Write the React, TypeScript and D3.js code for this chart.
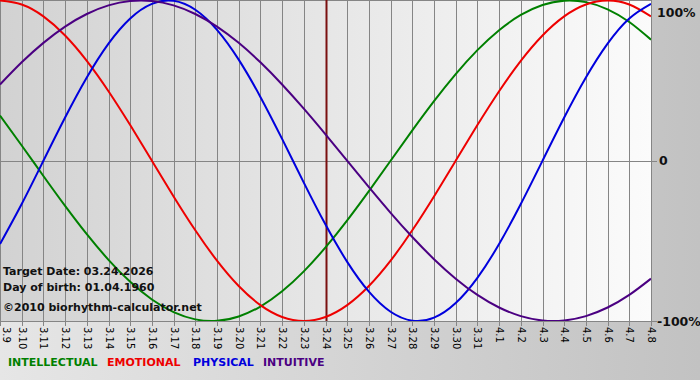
import React from "react";
import * as d3 from "d3";

const dayLabels = ["3.9","3.10","3.11","3.12","3.13","3.14","3.15","3.16","3.17","3.18","3.19","3.20","3.21","3.22","3.23","3.24","3.25","3.26","3.27","3.28","3.29","3.30","3.31","4.1","4.2","4.3","4.4","4.5","4.6","4.7","4.8"];

const physical = [-0.5196,-0.2698,0,0.2698,0.5196,0.7308,0.8879,0.9791,0.9977,0.9423,0.8170,0.6310,0.3984,0.1362,-0.1362,-0.3984,-0.6310,-0.8170,-0.9423,-0.9977,-0.9791,-0.8879,-0.7308,-0.5196,-0.2698,0,0.2698,0.5196,0.7308,0.8879,0.9791];
const emotional = [1,0.9749,0.9010,0.7818,0.6235,0.4339,0.2225,0,-0.2225,-0.4339,-0.6235,-0.7818,-0.9010,-0.9749,-1,-0.9749,-0.9010,-0.7818,-0.6235,-0.4339,-0.2225,0,0.2225,0.4339,0.6235,0.7818,0.9010,0.9749,1,0.9749,0.9010];
const intellectual = [0.2817,0.0951,-0.0951,-0.2817,-0.4582,-0.6182,-0.7557,-0.8660,-0.9450,-0.9898,-0.9989,-0.9718,-0.9096,-0.8146,-0.6901,-0.5406,-0.3717,-0.1893,0,0.1893,0.3717,0.5406,0.6901,0.8146,0.9096,0.9718,0.9989,0.9898,0.9450,0.8660,0.7557];
const intuitive = [0.4759,0.6142,0.7357,0.8372,0.9158,0.9694,0.9966,0.9966,0.9694,0.9158,0.8372,0.7357,0.6142,0.4759,0.3247,0.1646,0,-0.1646,-0.3247,-0.4759,-0.6142,-0.7357,-0.8372,-0.9158,-0.9694,-0.9966,-0.9966,-0.9694,-0.9158,-0.8372,-0.7357];

const yTicks = [1, 0, -1];
const yTickLabels = ["100%", "0", "-100%"];
const targetDay = "3.24";
const infoLines = ["Target Date: 03.24.2026", "Day of birth: 01.04.1960", "©2010 biorhythm-calculator.net"];

const series = [
  { name: "INTELLECTUAL", values: intellectual, color: "#008000" },
  { name: "EMOTIONAL", values: emotional, color: "#ee0000" },
  { name: "PHYSICAL", values: physical, color: "#0000dd" },
  { name: "INTUITIVE", values: intuitive, color: "#4b0082" },
];
const legendX = [8, 107, 193, 263];

export default function App() {
  const W = 700, H = 380;
  const plotL = 0, plotR = 651, plotT = 0, plotB = 321;
  const x = d3.scaleLinear().domain([0, dayLabels.length - 1]).range([plotL, plotR]);
  const y = d3.scaleLinear().domain([-1, 1]).range([plotB, plotT + 0.5]);
  const line = d3.line<number>().x((_, i) => x(i)).y(d => y(d)).curve(d3.curveNatural);
  const font = "Verdana, 'DejaVu Sans', sans-serif";
  const ti = dayLabels.indexOf(targetDay);

  return (
    <svg width={W} height={H} style={{ position: "absolute", left: 0, top: 0 }} fontFamily={font}>
      <defs>
        <linearGradient id="outer" x1="0" x2="1" y1="0" y2="0">
          <stop offset="0" stopColor="#e6e6e6" />
          <stop offset="1" stopColor="#c2c2c2" />
        </linearGradient>
        <linearGradient id="plotbg" x1="0" x2="1" y1="0" y2="0">
          <stop offset="0" stopColor="#d2d2d2" />
          <stop offset="1" stopColor="#fbfbfb" />
        </linearGradient>
        <clipPath id="clip">
          <rect x={plotL} y={plotT} width={plotR - plotL} height={plotB - plotT} />
        </clipPath>
      </defs>
      <rect x={0} y={0} width={W} height={H} fill="url(#outer)" />
      <rect x={plotL} y={plotT} width={plotR - plotL} height={plotB - plotT} fill="url(#plotbg)" />
      {dayLabels.map((d, i) => (
        <line key={"g" + i} x1={Math.round(x(i)) + 0.5} x2={Math.round(x(i)) + 0.5} y1={plotT} y2={plotB + 5} stroke="#858585" strokeWidth={1} />
      ))}
      <line x1={plotL} x2={plotR + 6} y1={Math.round(y(0)) + 0.5} y2={Math.round(y(0)) + 0.5} stroke="#858585" />
      <line x1={plotL} x2={plotR + 6} y1={plotB + 0.5} y2={plotB + 0.5} stroke="#858585" />
      <line x1={plotL} x2={plotR} y1={0.5} y2={0.5} stroke="#858585" />
      <line x1={Math.round(x(ti)) + 0.5} x2={Math.round(x(ti)) + 0.5} y1={plotT} y2={plotB} stroke="#7a1010" strokeWidth={2} />
      <g clipPath="url(#clip)">
        {series.map(s => (
          <path key={s.name} d={line(s.values) || ""} fill="none" stroke={s.color} strokeWidth={2} />
        ))}
      </g>
      {dayLabels.map((d, i) => (
        <text key={"t" + i} transform={`translate(${Math.max(Math.round(x(i)) - 3, 3)},${plotB + 6}) rotate(90)`} fontSize={10} fill="#000">{d}</text>
      ))}
      {yTicks.map((t, i) => (
        <text key={"y" + i} x={plotR + 6 + (t === 0 ? 2 : 0)} y={Math.min(Math.max(y(t), 12), plotB) + 4.5} fontSize={12.5} fontWeight="bold" fill="#111">{yTickLabels[i]}</text>
      ))}
      {infoLines.map((s, i) => (
        <text key={"i" + i} x={3} y={[275, 291, 311][i]} fontSize={11} fontWeight="bold" fill="#111">{s}</text>
      ))}
      {series.map((s, i) => (
        <text key={"l" + i} x={legendX[i]} y={366} fontSize={11} fontWeight="bold" fill={s.color}>{s.name}</text>
      ))}
    </svg>
  );
}
